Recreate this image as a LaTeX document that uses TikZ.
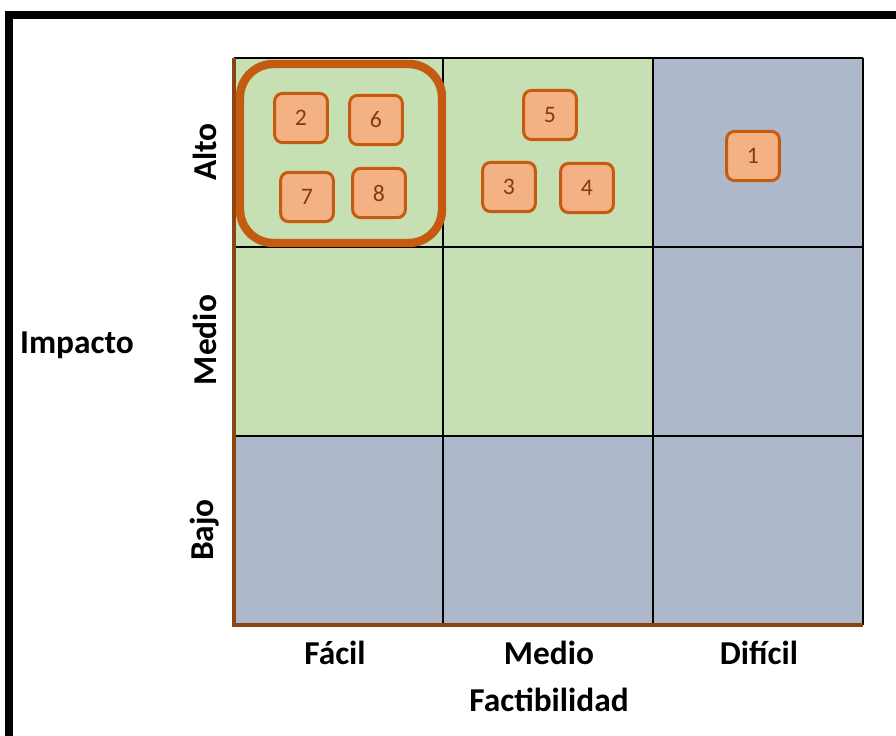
\documentclass[tikz,border=0pt]{standalone}
\usepackage{fontspec}
\setmainfont{Carlito}
\usetikzlibrary{positioning}

\definecolor{verde}{HTML}{C6E0B4}
\definecolor{gris}{HTML}{ADB9CA}
\definecolor{naranja}{HTML}{C55A11}
\definecolor{salmon}{HTML}{F4B183}
\definecolor{cafe}{HTML}{843C0C}
\definecolor{eje}{HTML}{8B4513}

\tikzset{
	celda/.style={draw=black, line width=0.8pt},
	idea/.style={draw=naranja, fill=salmon, line width=1.7pt, rounded corners=4.5pt,
		minimum width=30pt, minimum height=28pt, inner sep=0pt, text=cafe,
		font=\fontsize{13.5}{15}\selectfont},
	rotulo/.style={font=\fontsize{19}{21}\selectfont\bfseries}
}

\begin{document}
\begin{tikzpicture}[x=0.02cm, y=-0.02cm]
		\useasboundingbox (0,0) rectangle (896,736);
		% cuadricula 3x3
		\fill[verde] (234,58) rectangle (653,436);
		\fill[gris] (653,58) rectangle (863,436);
		\fill[gris] (234,436) rectangle (863,625);
		\foreach \x in {234,443,653,863}
			\draw[celda] (\x,58) -- (\x,625);
		\foreach \y in {58,247,436,625}
			\draw[celda] (234,\y) -- (863,\y);
		\draw[eje, line width=1.8pt] (234,58) -- (234,625) -- (863,625);
		% grupo de prioridad
		\draw[naranja, line width=4.8pt, rounded corners=19pt] (240,64) rectangle (442,243);
		\path 	(301,118)	node[idea] (n2) {2}
			(376,120)	node[idea] (n6) {6}
			(307,197)	node[idea] (n7) {7}
			(379,193)	node[idea] (n8) {8}
			(550,115)	node[idea] (n5) {5}
			(509,187)	node[idea] (n3) {3}
			(587,188)	node[idea] (n4) {4}
			(753,156)	node[idea] (n1) {1};
		% ejes
		\path 	(205,152)	node[rotulo, rotate=90] (alto)  {Alto}
			(205,340)	node[rotulo, rotate=90] (medioy) {Medio}
			(205,530)	node[rotulo, rotate=90] (bajo)  {Bajo}
			(77,345)	node[rotulo] (impacto) {Impacto}
			(335,653)	node[rotulo] (facil) {Fácil}
			(549,653)	node[rotulo] (mediox) {Medio}
			(759,653)	node[rotulo] (dificil) {Difícil}
			(549,700)	node[rotulo] (factib) {Factibilidad};
		% marco
		\draw[black, line width=4.5pt] (896,15) -- (9,15) -- (9,736);
	\end{tikzpicture}
\end{document}
